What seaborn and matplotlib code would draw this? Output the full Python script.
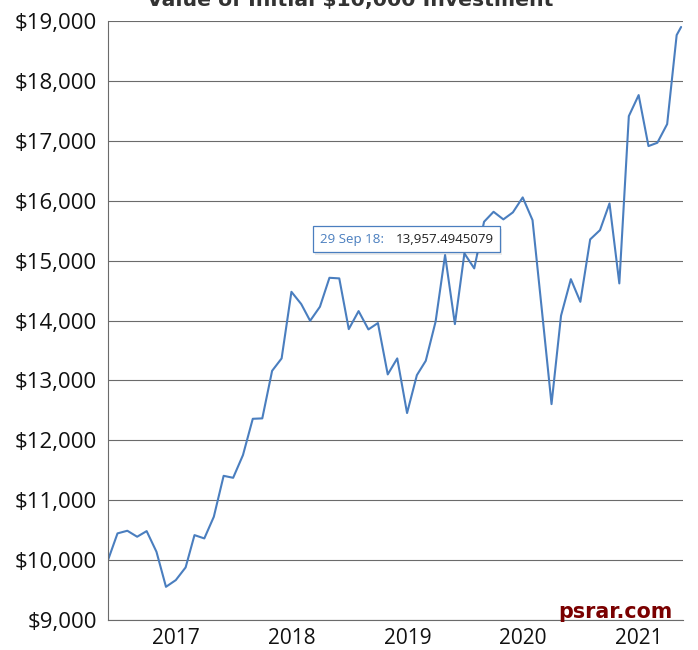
import matplotlib
matplotlib.use("Agg")
import matplotlib.pyplot as plt
import matplotlib.dates as mdates
from matplotlib.patches import Rectangle
from matplotlib.ticker import FuncFormatter, MultipleLocator
import seaborn as sns
import pandas as pd

# ---- data ----
dates = list(pd.date_range("2016-05-31", "2021-04-30", freq="ME")) + [pd.Timestamp("2021-05-14")]
values = [
    10000, 10446, 10490, 10390, 10484, 10139, 9554, 9666, 9878, 10417,
    10362, 10723, 11407, 11374, 11753, 12359, 12366, 13160, 13367, 14479,
    14274, 13995, 14230, 14713, 14703, 13856, 14157, 13851, 13957.4945079, 13100,
    13367, 12455, 13088, 13327, 13980, 15092, 13940, 15120, 14870, 15648,
    15815, 15688, 15805, 16055, 15676, 14200, 12604, 14080, 14690, 14312,
    15354, 15509, 15955, 14619, 17412, 17763, 16912, 16967, 17279, 18765,
    18900,
]
title = "Value of Initial $10,000 Investment"
tooltip_label = "29 Sep 18:"
tooltip_index = 28
watermark = "psrar.com"
y_min, y_max = 9000, 19000

df = pd.DataFrame({"date": dates, "value": values})

sns.set_theme(style="white")
plt.rcParams["font.family"] = ["Open Sans", "DejaVu Sans"]

fig = plt.figure(figsize=(6.98, 6.5), dpi=100)
ax = fig.add_axes([108 / 698, 1 - 620 / 650, 575 / 698, 599 / 650])

sns.lineplot(data=df, x="date", y="value", ax=ax, color="#4a7ebf", linewidth=1.5)

ax.set_ylim(y_min, y_max)
ax.set_xlim(pd.Timestamp("2016-05-31"), pd.Timestamp("2021-05-20"))
ax.yaxis.set_major_locator(MultipleLocator(1000))
ax.yaxis.set_major_formatter(FuncFormatter(lambda v, p: f"${v:,.0f}"))
ax.xaxis.set_major_locator(mdates.YearLocator())
ax.xaxis.set_major_formatter(mdates.DateFormatter("%Y"))
ax.set_xlabel("")
ax.set_ylabel("")

ax.grid(axis="y", color="#6b6b6b", linewidth=0.8)
ax.grid(axis="x", visible=False)
for s in ["top", "right"]:
    ax.spines[s].set_visible(False)
for s in ["left", "bottom"]:
    ax.spines[s].set_color("#6b6b6b")
    ax.spines[s].set_linewidth(0.8)
ax.tick_params(axis="both", which="major", length=5, width=0.8, color="#6b6b6b",
               labelcolor="#111111")
ax.tick_params(axis="y", labelsize=16, pad=3)
ax.tick_params(axis="x", labelsize=15, pad=1)

# title (clipped at top in reference)
fig.text(350 / 698, 1 - 6 / 650, title, ha="center", va="baseline",
         fontsize=14.7, fontweight="bold", color="#333333", family="DejaVu Sans")

# tooltip
bx0, bx1 = (313 - 108) / 575, (500 - 108) / 575
by0, by1 = (620 - 252) / 599, (620 - 226) / 599
ax.add_patch(Rectangle((bx0 + 0.004, by0 - 0.005), bx1 - bx0, by1 - by0, transform=ax.transAxes,
                       facecolor="#000000", alpha=0.08, edgecolor="none", zorder=5))
ax.add_patch(Rectangle((bx0, by0), bx1 - bx0, by1 - by0, transform=ax.transAxes,
                       facecolor="white", edgecolor="#4a7ebf", linewidth=0.9, zorder=6))
ty = (by0 + by1) / 2
ax.text((320 - 108) / 575, ty, tooltip_label, transform=ax.transAxes, ha="left", va="center",
        fontsize=9.6, color="#4a7ebf", zorder=7)
ax.text((396 - 108) / 575, ty, f"{values[tooltip_index]:,.7f}", transform=ax.transAxes,
        ha="left", va="center", fontsize=9.6, color="#222222", zorder=7)

# watermark
fig.text(672 / 698, 1 - 618 / 650, watermark, ha="right", va="baseline",
         fontsize=14.9, fontweight="bold", color="#7a0000", family="DejaVu Sans")

fig.savefig("out.png", dpi=100)
